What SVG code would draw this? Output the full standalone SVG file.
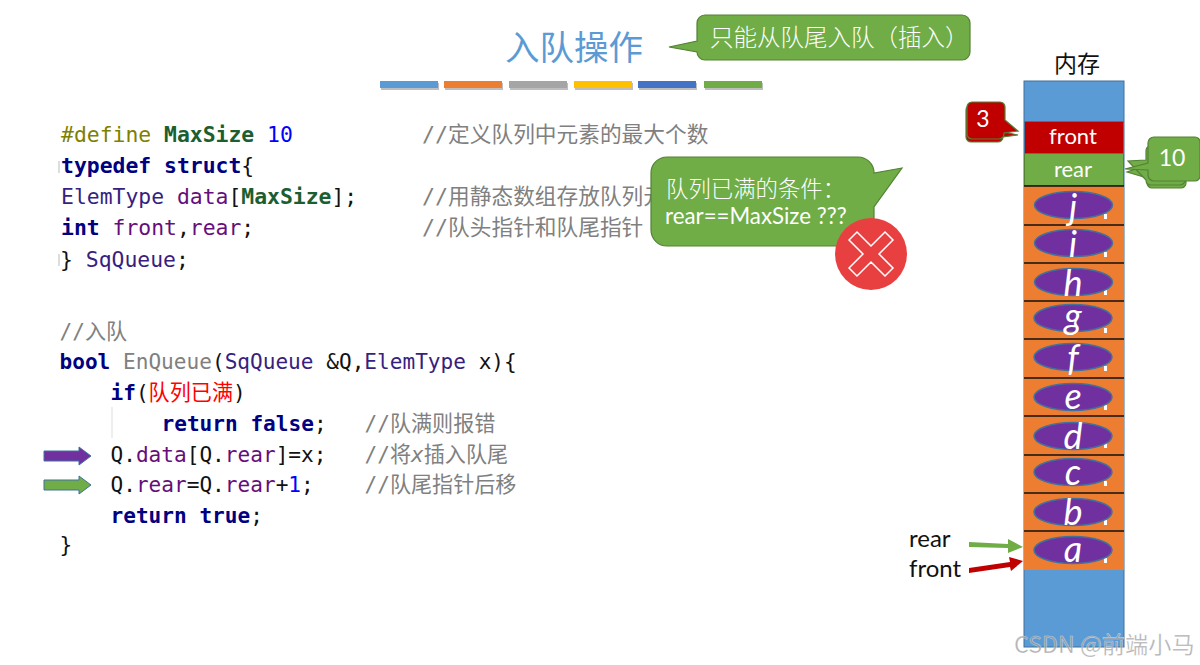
<svg xmlns="http://www.w3.org/2000/svg" width="1200" height="665" viewBox="0 0 1200 665">
<style>
text{white-space:pre}
.code{font-family:"DejaVu Sans Mono","Noto Sans CJK SC",monospace;font-size:21.4px;fill:#111}
.code2{font-family:"DejaVu Sans Mono","Noto Sans CJK SC",monospace;font-size:21.1px;fill:#111}
.kw{font-weight:bold;fill:#000080}
.mac{fill:#808000}
.cst{font-weight:bold;fill:#1B5E30}
.num{fill:#0000FF}
.fld{fill:#660E7A}
.typ{fill:#371F80}
.cm{fill:#808080}
.fn{fill:#808080}
.ui{font-family:"Lato","Noto Sans CJK SC",sans-serif}
.cjk{font-family:"Noto Sans CJK SC",sans-serif}
.wh{fill:#fff}
.grn{fill:#70AD47;stroke:#548235;stroke-width:1.2}
.red{fill:#C00000;stroke:#548235;stroke-width:1.2}
.cell{stroke:#41719C;stroke-width:1}
.sep{stroke:#111;stroke-width:1.5}
.oval{fill:#7030A0;stroke:#41719C;stroke-width:1.5}
.let{font-family:"Lato",sans-serif;font-style:italic;font-size:36px;fill:#fff;text-anchor:middle}
.bsh{fill:#888;opacity:.55}
.mk{fill:#fff}
</style>

<g id="title">
<text class="cjk" x="574" y="60" font-size="34.500" fill="#5B9BD5" text-anchor="middle">入队操作</text>
<g>
<rect class="bsh" x="381" y="83" width="58" height="7"/><rect class="bsh" x="445" y="83" width="58" height="7"/><rect class="bsh" x="510" y="83" width="58" height="7"/><rect class="bsh" x="575" y="83" width="58" height="7"/><rect class="bsh" x="639" y="83" width="58" height="7"/><rect class="bsh" x="705" y="83" width="58" height="7"/>
<rect x="380" y="81" width="58" height="7" fill="#5B9BD5"/><rect x="444" y="81" width="58" height="7" fill="#ED7D31"/><rect x="509" y="81" width="58" height="7" fill="#A5A5A5"/><rect x="574" y="81" width="58" height="7" fill="#FFC000"/><rect x="638" y="81" width="58" height="7" fill="#4472C4"/><rect x="704" y="81" width="58" height="7" fill="#70AD47"/>
</g>
</g>

<g id="code-struct" class="code">
<text x="61" y="142"><tspan class="mac">#define</tspan> <tspan class="cst">MaxSize</tspan> <tspan class="num">10</tspan></text>
<text x="422" y="142" class="cm" font-size="21.700">//定义队列中元素的最大个数</text>
<text x="61" y="173"><tspan class="kw">typedef</tspan> <tspan class="kw">struct</tspan>{</text>
<text x="61" y="204"><tspan class="typ">ElemType</tspan> <tspan class="fld">data</tspan>[<tspan class="cst">MaxSize</tspan>];</text>
<text x="422" y="204" class="cm" font-size="21.700">//用静态数组存放队列元素</text>
<text x="61" y="235"><tspan class="kw">int</tspan> <tspan class="fld">front</tspan>,<tspan class="fld">rear</tspan>;</text>
<text x="422" y="235" class="cm" font-size="21.700">//队头指针和队尾指针</text>
<text x="60" y="267">} <tspan class="typ">SqQueue</tspan>;</text>
<rect x="58.500" y="161" width="1" height="12" fill="#bbb"/>
<rect x="58.500" y="254" width="1" height="12" fill="#bbb"/>
</g>

<g id="code-enqueue" class="code2">
<text x="59.500" y="339" class="cm">//入队</text>
<text x="59.500" y="369"><tspan class="kw">bool</tspan> <tspan class="fn">EnQueue</tspan>(<tspan class="typ">SqQueue</tspan> &amp;Q,<tspan class="typ">ElemType</tspan> x){</text>
<text x="110.500" y="400"><tspan class="kw">if</tspan>(<tspan fill="#FF0000">队列已满</tspan>)</text>
<line x1="112" y1="407" x2="112" y2="438" stroke="#ddd" stroke-width="1"/>
<text x="161.500" y="431"><tspan class="kw">return false</tspan>;</text>
<text x="364.500" y="431" class="cm">//队满则报错</text>
<text x="110.500" y="462">Q.<tspan class="fld">data</tspan>[Q.<tspan class="fld">rear</tspan>]=x;</text>
<text x="364.500" y="462" class="cm">//将<tspan font-style="italic">x</tspan>插入队尾</text>
<text x="110.500" y="492">Q.<tspan class="fld">rear</tspan>=Q.<tspan class="fld">rear</tspan>+<tspan class="num">1</tspan>;</text>
<text x="364.500" y="492" class="cm">//队尾指针后移</text>
<text x="110.500" y="523"><tspan class="kw">return true</tspan>;</text>
<text x="59.500" y="552">}</text>
</g>

<g id="step-arrows" stroke="#41719C" stroke-width="1">
<polygon points="44,451 79,451 79,447 91,456 79,465 79,461 44,461" fill="#7030A0"/>
<polygon points="44,480 79,480 79,476 91,485 79,494 79,490 44,490" fill="#70AD47"/>
</g>

<g id="memory">
<text class="cjk" x="1077" y="72" font-size="23" fill="#111" text-anchor="middle">内存</text>
<rect class="cell" x="1024" y="81" width="100" height="566" fill="#5B9BD5"/>
<rect x="1024" y="186" width="100" height="384" fill="#ED7D31"/>
<rect class="cell" x="1024.500" y="121.500" width="99" height="32" fill="#C00000" stroke="#70AD47"/>
<rect x="1024.500" y="153.500" width="99" height="32" fill="#70AD47" stroke="#548235" stroke-width="1"/>
<text class="ui wh" x="1073" y="144" font-size="22" text-anchor="middle">front</text>
<text class="ui wh" x="1073" y="177" font-size="22" text-anchor="middle">rear</text>
<g class="sep">
<line x1="1024" y1="186" x2="1124" y2="186"/><line x1="1024" y1="225" x2="1124" y2="225"/><line x1="1024" y1="263" x2="1124" y2="263"/><line x1="1024" y1="301" x2="1124" y2="301"/><line x1="1024" y1="339" x2="1124" y2="339"/><line x1="1024" y1="378" x2="1124" y2="378"/><line x1="1024" y1="416" x2="1124" y2="416"/><line x1="1024" y1="455" x2="1124" y2="455"/><line x1="1024" y1="493" x2="1124" y2="493"/><line x1="1024" y1="531" x2="1124" y2="531"/>
</g>
<g class="mk">
<rect x="1104" y="214" width="3" height="5"/><rect x="1104" y="252" width="3" height="5"/><rect x="1104" y="290" width="3" height="5"/><rect x="1104" y="328" width="3" height="5"/><rect x="1104" y="366" width="3" height="5"/><rect x="1104" y="405" width="3" height="5"/><rect x="1104" y="443" width="3" height="5"/><rect x="1104" y="481" width="3" height="5"/><rect x="1104" y="520" width="3" height="5"/><rect x="1104" y="558" width="3" height="5"/>
</g>
</g>

<g id="elem-j"><ellipse class="oval" cx="1073.500" cy="205" rx="39" ry="13.500"/><text class="let" x="1073" y="220">j</text></g>
<g id="elem-i"><ellipse class="oval" cx="1073.500" cy="243" rx="39" ry="13.500"/><text class="let" x="1073" y="257">i</text></g>
<g id="elem-h"><ellipse class="oval" cx="1073.500" cy="282" rx="39" ry="13.500"/><text class="let" x="1073" y="296">h</text></g>
<g id="elem-g"><ellipse class="oval" cx="1073" cy="318" rx="39" ry="13.500"/><text class="let" x="1073" y="329">g</text></g>
<g id="elem-f"><ellipse class="oval" cx="1073" cy="357" rx="39" ry="13.500"/><text class="let" x="1073" y="371">f</text></g>
<g id="elem-e"><ellipse class="oval" cx="1073" cy="397" rx="39" ry="13.500"/><text class="let" x="1073" y="409">e</text></g>
<g id="elem-d"><ellipse class="oval" cx="1073" cy="436" rx="39" ry="13.500"/><text class="let" x="1073" y="449">d</text></g>
<g id="elem-c"><ellipse class="oval" cx="1073" cy="472" rx="39" ry="13.500"/><text class="let" x="1073" y="485">c</text></g>
<g id="elem-b"><ellipse class="oval" cx="1073" cy="512" rx="39" ry="13.500"/><text class="let" x="1073" y="525">b</text></g>
<g id="elem-a"><ellipse class="oval" cx="1073" cy="550" rx="39" ry="13.500"/><text class="let" x="1073" y="562">a</text></g>

<g id="pointer-labels">
<text class="ui" x="909" y="547" font-size="24" fill="#111">rear</text>
<text class="ui" x="909" y="577" font-size="24" fill="#111">front</text>
</g>
<g id="connectors">
<polygon points="969,542 1008,544 1008,539 1023,547 1008,553 1008,548 969,547" fill="#70AD47"/>
<polygon points="969,568 1010,562 1009,557 1023,561 1011,571 1010,567 969,573" fill="#C00000"/>
</g>

<g id="callout-tail-note">
<path class="grn" d="M705,15H962a8,8 0 0 1 8,8V52a8,8 0 0 1 -8,8H705a8,8 0 0 1 -8,-8V52L669,47L697,41V23a8,8 0 0 1 8,-8Z"/>
<text class="cjk wh" x="710" y="46" font-size="23.500" font-weight="300">只能从队尾入队（插入）</text>
</g>

<g id="callout-full">
<path class="grn" d="M667,157H858a16,16 0 0 1 16,16L902,168L874,207V230a16,16 0 0 1 -16,16H667a16,16 0 0 1 -16,-16V173a16,16 0 0 1 16,-16Z"/>
<text class="cjk wh" x="666" y="197" font-size="22.400" font-weight="300">队列已满的条件：</text>
<text class="ui wh" x="665" y="224" font-size="22.300">rear==MaxSize ???</text>
</g>

<g id="wrong-mark">
<circle cx="871" cy="254" r="36" fill="#E84040"/>
<polygon points="849,240 857,232 871,246 885,232 893,240 879,254 893,268 885,276 871,262 857,276 849,268 863,254" fill="#E84040" stroke="#fff" stroke-width="1.500"/>
</g>

<g id="callout-front">
<path class="red" d="M971,105H999a5,5 0 0 1 5,5V132L1018,135L1003,137a5,5 0 0 1 -5,5H971a5,5 0 0 1 -5,-5V110a5,5 0 0 1 5,-5Z"/>
<path class="red" d="M972,102H1000a5,5 0 0 1 5,5V120L1018,131L1004,133V134a5,5 0 0 1 -5,5H972a5,5 0 0 1 -5,-5V107a5,5 0 0 1 5,-5Z"/>
<text class="ui wh" x="983" y="127" font-size="23" text-anchor="middle">3</text>
</g>

<g id="callout-rear">
<path class="grn" d="M1152,150H1181a5,5 0 0 1 5,5V183a5,5 0 0 1 -5,5H1152a5,5 0 0 1 -5,-5V178L1127,172L1147,165V155a5,5 0 0 1 5,-5Z"/>
<path class="grn" d="M1150,146H1180a5,5 0 0 1 5,5V180a5,5 0 0 1 -5,5H1150a5,5 0 0 1 -4,-5L1128,161L1146,160V151a5,5 0 0 1 4,-5Z"/>
<path class="grn" d="M1154,137H1195a5,5 0 0 1 5,5V176a5,5 0 0 1 -5,5H1154a6,6 0 0 1 -6,-6V170L1125,169L1148,163V143a6,6 0 0 1 6,-6Z"/>
<text class="ui wh" x="1172" y="166" font-size="23" text-anchor="middle">10</text>
</g>

<g id="watermark">
<text class="cjk" x="1014" y="653" font-size="23.200" fill="#999" fill-opacity=".75" stroke="#fff" stroke-opacity=".5" stroke-width=".6">CSDN @前端小马</text>
</g>
</svg>
